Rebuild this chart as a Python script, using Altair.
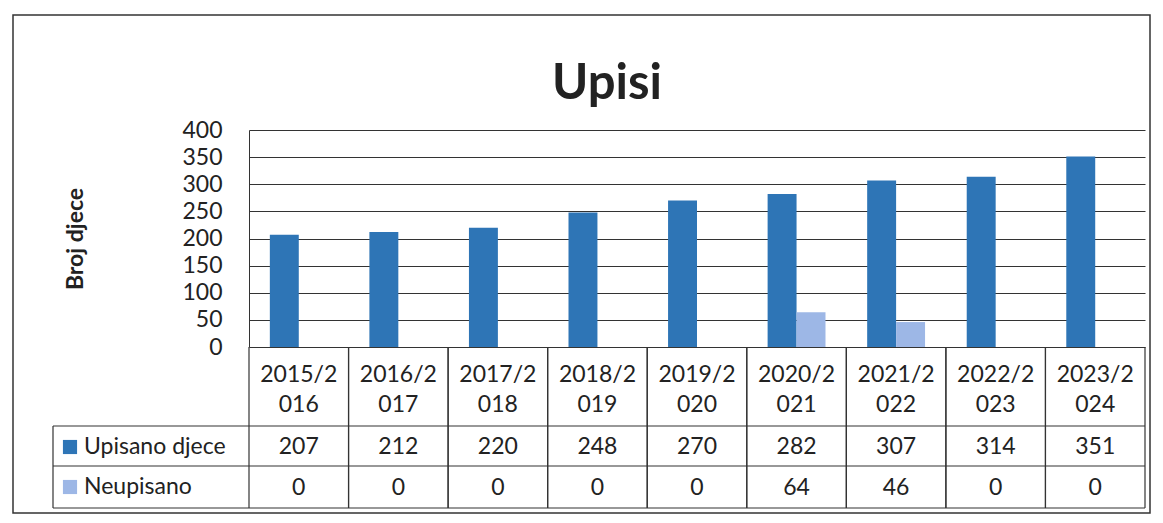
import altair as alt
import pandas as pd

# ---- data ----
years = ["2015/2016", "2016/2017", "2017/2018", "2018/2019", "2019/2020",
         "2020/2021", "2021/2022", "2022/2023", "2023/2024"]
upisano = [207, 212, 220, 248, 270, 282, 307, 314, 351]
neupisano = [0, 0, 0, 0, 0, 64, 46, 0, 0]
series = ["Upisano djece", "Neupisano"]
colors = ["#2E75B6", "#9DB7E6"]
y_ticks = [0, 50, 100, 150, 200, 250, 300, 350, 400]

long_df = pd.DataFrame(
    [{"cat": c, "series": series[0], "value": v} for c, v in zip(years, upisano)]
    + [{"cat": c, "series": series[1], "value": v} for c, v in zip(years, neupisano)]
)
years_df = pd.DataFrame({"cat": years})
series_df = pd.DataFrame({"series": series})
dummy = pd.DataFrame({"k": [0]})

# ---- layout (pixels) ----
L, T = 249, 130
W, H = 896, 217
FONT = "Lato"
TXT = "#222222"
LINE = "#333333"

xscale = alt.Scale(type="band", domain=years, paddingInner=0, paddingOuter=0)

def X(**kw):
    return alt.X("cat:N", scale=xscale, axis=None, **kw)

bars = alt.Chart(long_df).transform_filter("datum.value > 0").mark_bar().encode(
    x=X(),
    xOffset=alt.XOffset("series:N", scale=alt.Scale(domain=series, paddingInner=0, paddingOuter=0.72)),
    y=alt.Y("value:Q", scale=alt.Scale(domain=[0, 400], nice=False),
            axis=alt.Axis(values=y_ticks, grid=True, gridColor=LINE, gridWidth=1,
                          domain=True, domainColor=LINE, ticks=False,
                          labelFont=FONT, labelFontSize=23, labelColor=TXT, labelPadding=27,
                          title="Broj djece", titleFont=FONT, titleFontSize=23,
                          titleFontWeight="bold", titleColor=TXT, titleAngle=270,
                          titleX=-174, titleY=H / 2, titleBaseline="middle", titleAlign="center")),
    color=alt.Color("series:N", scale=alt.Scale(domain=series, range=colors), legend=None),
)

# title as text
title = alt.Chart(dummy).mark_text(text="Upisi", font=FONT, fontSize=49, fontWeight="bold",
                                   color=TXT, baseline="alphabetic", align="center").encode(
    x=alt.value(607 - L), y=alt.value(99 - T))

# outer frame
frame = alt.Chart(dummy).mark_rect(fillOpacity=0, stroke=LINE, strokeWidth=1.5).encode(
    x=alt.value(13 - L), x2=alt.value(1150 - L), y=alt.value(15 - T), y2=alt.value(513 - T))

# table header text (two lines, first line centred at y)
header = alt.Chart(years_df).transform_calculate(
    label="slice(datum.cat, 0, 6) + '\\n' + slice(datum.cat, 6)"
).mark_text(font=FONT, fontSize=23, color=TXT, lineBreak="\n", lineHeight=30,
            baseline="middle").encode(x=X(), y=alt.value(245), text="label:N")

row1 = alt.Chart(long_df).transform_filter(alt.datum.series == series[0]).mark_text(
    font=FONT, fontSize=23, color=TXT, baseline="middle").encode(
    x=X(), y=alt.value(317), text="value:Q")
row2 = alt.Chart(long_df).transform_filter(alt.datum.series == series[1]).mark_text(
    font=FONT, fontSize=23, color=TXT, baseline="middle").encode(
    x=X(), y=alt.value(358), text="value:Q")

# table grid
vlines0 = alt.Chart(years_df).mark_rule(color=LINE, strokeWidth=1.2).encode(
    x=X(bandPosition=0), y=alt.value(H), y2=alt.value(378))
vlines1 = alt.Chart(years_df).mark_rule(color=LINE, strokeWidth=1.2).encode(
    x=X(bandPosition=1), y=alt.value(H), y2=alt.value(378))
hl = []
for yy in (296, 336, 378):
    hl.append(alt.Chart(dummy).mark_rule(color=LINE, strokeWidth=1.2).encode(
        x=alt.value(53 - L), x2=alt.value(W), y=alt.value(yy)))
leftb = alt.Chart(dummy).mark_rule(color=LINE, strokeWidth=1.2).encode(
    x=alt.value(53 - L), y=alt.value(296), y2=alt.value(378))

# legend keys inside the table
key_y = {series[0]: 317, series[1]: 357}
keys = []
for s, c in zip(series, colors):
    sd = series_df[series_df.series == s]
    keys.append(alt.Chart(sd).mark_square(size=200, filled=True, color=c, opacity=1).encode(
        x=alt.value(70 - L), y=alt.value(key_y[s])))
    keys.append(alt.Chart(sd).mark_text(font=FONT, fontSize=23, color=TXT, align="left",
                                        baseline="middle").encode(
        x=alt.value(84 - L), y=alt.value(key_y[s]), text="series:N"))

chart = alt.layer(
    frame, bars, title, header, row1, row2, vlines0, vlines1, *hl, leftb, *keys
).properties(
    width=W, height=H,
    padding={"left": L, "top": T, "right": 1163 - L - W, "bottom": 523 - T - H},
    autosize=alt.AutoSizeParams(type="none"),
    background="white",
).configure_view(stroke=None)

chart.save("out.html", embed_options={"renderer": "svg", "actions": False})
